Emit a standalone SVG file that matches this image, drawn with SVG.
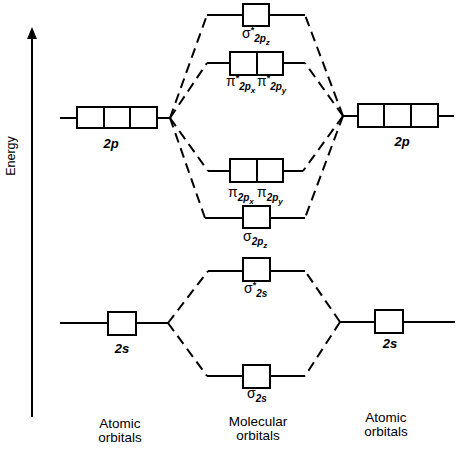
<svg xmlns="http://www.w3.org/2000/svg" width="465" height="456" viewBox="0 0 465 456">
<defs>
<style>
.ln{stroke:#000;stroke-width:2;fill:none}
.bx{stroke:#000;stroke-width:2;fill:#fff}
.dsh{stroke:#000;stroke-width:2;fill:none;stroke-dasharray:10 6}
.t{font-family:"Liberation Sans",Arial,sans-serif;fill:#000}
.lab{font-size:13.5px}
.gr{font-size:14px}
.st{font-size:9px;font-weight:bold}
.sub{font-size:10px;font-style:italic;font-weight:bold}
.sub2{font-size:8px;font-style:italic;font-weight:bold}
.ao{font-size:13px;font-style:italic;font-weight:bold}
</style>
</defs>
<rect width="465" height="456" fill="#fff"/>

<g id="axis">
<line x1="32" y1="417" x2="32" y2="36" class="ln" stroke-width="1.6"/>
<path d="M27,39 L32,27 L37,39 Z" fill="#000"/>
<text class="t" font-size="12.5" transform="translate(15,156) rotate(-90)" text-anchor="middle">Energy</text>
</g>

<g id="connectors">
<path class="dsh" d="M170,118 L207,15"/>
<path class="dsh" d="M170,118 L207,63"/>
<path class="dsh" d="M170,118 L208,171"/>
<path class="dsh" d="M170,118 L205,218"/>
<path class="dsh" d="M343,116 L305,15"/>
<path class="dsh" d="M343,116 L305,63"/>
<path class="dsh" d="M343,116 L303,171"/>
<path class="dsh" d="M343,116 L305,218"/>
<path class="dsh" d="M168,323 L208,271"/>
<path class="dsh" d="M168,323 L207,376"/>
<path class="dsh" d="M340,322 L305,271"/>
<path class="dsh" d="M340,322 L305,376"/>
</g>

<g id="ao-2p-left">
<line class="ln" x1="60" y1="118" x2="170" y2="118"/>
<rect class="bx" x="77" y="107" width="80" height="21"/>
<line class="ln" x1="104" y1="107" x2="104" y2="128"/>
<line class="ln" x1="130" y1="107" x2="130" y2="128"/>
<text class="t ao" x="111" y="148" text-anchor="middle">2p</text>
</g>

<g id="ao-2p-right">
<line class="ln" x1="343" y1="116" x2="454" y2="116"/>
<rect class="bx" x="358" y="104" width="80" height="23"/>
<line class="ln" x1="384" y1="104" x2="384" y2="127"/>
<line class="ln" x1="411" y1="104" x2="411" y2="127"/>
<text class="t ao" x="402" y="146" text-anchor="middle">2p</text>
</g>

<g id="ao-2s-left">
<line class="ln" x1="60" y1="323" x2="168" y2="323"/>
<rect class="bx" x="108" y="312" width="28" height="23"/>
<text class="t ao" x="122" y="353" text-anchor="middle">2s</text>
</g>

<g id="ao-2s-right">
<line class="ln" x1="340" y1="322" x2="455" y2="322"/>
<rect class="bx" x="375" y="310" width="28" height="23"/>
<text class="t ao" x="390" y="348" text-anchor="middle">2s</text>
</g>

<g id="mo-sigma-star-2pz">
<line class="ln" x1="207" y1="15" x2="305" y2="15"/>
<rect class="bx" x="243" y="4" width="26" height="22"/>
<text class="t" x="242" y="38"><tspan class="gr">σ</tspan><tspan class="st" dy="-5">*</tspan><tspan class="sub" dy="9">2p</tspan><tspan class="sub2" dy="3">z</tspan></text>
</g>

<g id="mo-pi-star-2p">
<line class="ln" x1="207" y1="63" x2="305" y2="63"/>
<rect class="bx" x="230" y="52" width="53" height="23"/>
<line class="ln" x1="257" y1="52" x2="257" y2="75"/>
<text class="t" x="226" y="86"><tspan class="gr">π</tspan><tspan class="st" dy="-5">*</tspan><tspan class="sub" dy="9">2p</tspan><tspan class="sub2" dy="3">x</tspan></text>
<text class="t" x="257" y="86"><tspan class="gr">π</tspan><tspan class="st" dy="-5">*</tspan><tspan class="sub" dy="9">2p</tspan><tspan class="sub2" dy="3">y</tspan></text>
</g>

<g id="mo-pi-2p">
<line class="ln" x1="208" y1="171" x2="303" y2="171"/>
<rect class="bx" x="230" y="159" width="53" height="23"/>
<line class="ln" x1="257" y1="159" x2="257" y2="182"/>
<text class="t" x="228" y="197"><tspan class="gr">π</tspan><tspan class="sub" dy="4">2p</tspan><tspan class="sub2" dy="3">x</tspan></text>
<text class="t" x="257" y="197"><tspan class="gr">π</tspan><tspan class="sub" dy="4">2p</tspan><tspan class="sub2" dy="3">y</tspan></text>
</g>

<g id="mo-sigma-2pz">
<line class="ln" x1="205" y1="218" x2="305" y2="218"/>
<rect class="bx" x="243" y="206" width="27" height="22"/>
<text class="t" x="243" y="241"><tspan class="gr">σ</tspan><tspan class="sub" dy="4">2p</tspan><tspan class="sub2" dy="3">z</tspan></text>
</g>

<g id="mo-sigma-star-2s">
<line class="ln" x1="208" y1="271" x2="305" y2="271"/>
<rect class="bx" x="243" y="258" width="27" height="23"/>
<text class="t" x="244" y="293"><tspan class="gr">σ</tspan><tspan class="st" dy="-5">*</tspan><tspan class="sub" dy="9">2s</tspan></text>
</g>

<g id="mo-sigma-2s">
<line class="ln" x1="207" y1="376" x2="305" y2="376"/>
<rect class="bx" x="243" y="365" width="27" height="23"/>
<text class="t" x="247" y="398"><tspan class="gr">σ</tspan><tspan class="sub" dy="4">2s</tspan></text>
</g>

<g id="labels">
<text class="t lab" x="120" y="428" text-anchor="middle">Atomic</text>
<text class="t lab" x="120" y="442" text-anchor="middle">orbitals</text>
<text class="t lab" x="258" y="426" text-anchor="middle">Molecular</text>
<text class="t lab" x="258" y="440" text-anchor="middle">orbitals</text>
<text class="t lab" x="386" y="422" text-anchor="middle">Atomic</text>
<text class="t lab" x="386" y="436" text-anchor="middle">orbitals</text>
</g>
</svg>
